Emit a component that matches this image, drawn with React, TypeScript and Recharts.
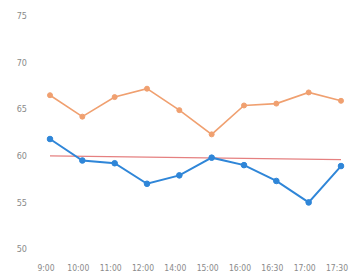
import React from "react";
import { LineChart, Line, XAxis, YAxis } from "recharts";

const categories = ["9:00", "10:00", "11:00", "12:00", "14:00", "15:00", "16:00", "16:30", "17:00", "17:30"];
const orangeValues = [66.5, 64.2, 66.3, 67.2, 64.9, 62.3, 65.4, 65.6, 66.8, 65.9];
const blueValues = [61.8, 59.5, 59.2, 57.0, 57.9, 59.8, 59.0, 57.3, 55.0, 58.9];
const redValues: (number | null)[] = [60.0, null, null, null, null, null, null, null, null, 59.6];
const yTicks = [50, 55, 60, 65, 70, 75];

const data = categories.map((c, i) => ({
  name: c,
  orange: orangeValues[i],
  blue: blueValues[i],
  red: redValues[i],
}));

const fontFamily = "'Liberation Sans Narrow', 'DejaVu Sans Condensed', 'Liberation Sans', sans-serif";
const yTickStyle = { fontSize: 9, fill: "#8a8a8a", fontFamily };
const xTickStyle = { fontSize: 8.5, fill: "#8a8a8a", fontFamily, dx: -4 };

export default function App() {
  return (
    <div style={{ position: "absolute", left: 0, top: 0, background: "#fff" }}>
      <LineChart width={351} height={279} data={data} margin={{ top: 16, right: 10, bottom: 0, left: 0 }}>
        <XAxis
          dataKey="name"
          axisLine={false}
          tickLine={false}
          height={30}
          tick={xTickStyle}
          tickMargin={10}
          interval={0}
        />
        <YAxis
          domain={[50, 75]}
          ticks={yTicks}
          axisLine={false}
          tickLine={false}
          width={50}
          tick={yTickStyle}
          tickMargin={17}
          interval={0}
        />
        <Line
          dataKey="red"
          stroke="#e58080"
          strokeWidth={1.2}
          dot={false}
          connectNulls
          isAnimationActive={false}
        />
        <Line
          dataKey="orange"
          stroke="#f0a070"
          strokeWidth={1.6}
          dot={{ r: 2.5, fill: "#f0a070", stroke: "#f0a070", strokeWidth: 1 }}
          isAnimationActive={false}
        />
        <Line
          dataKey="blue"
          stroke="#2f86d8"
          strokeWidth={2}
          dot={{ r: 2.8, fill: "#2f86d8", stroke: "#2f86d8", strokeWidth: 1 }}
          isAnimationActive={false}
        />
      </LineChart>
    </div>
  );
}
